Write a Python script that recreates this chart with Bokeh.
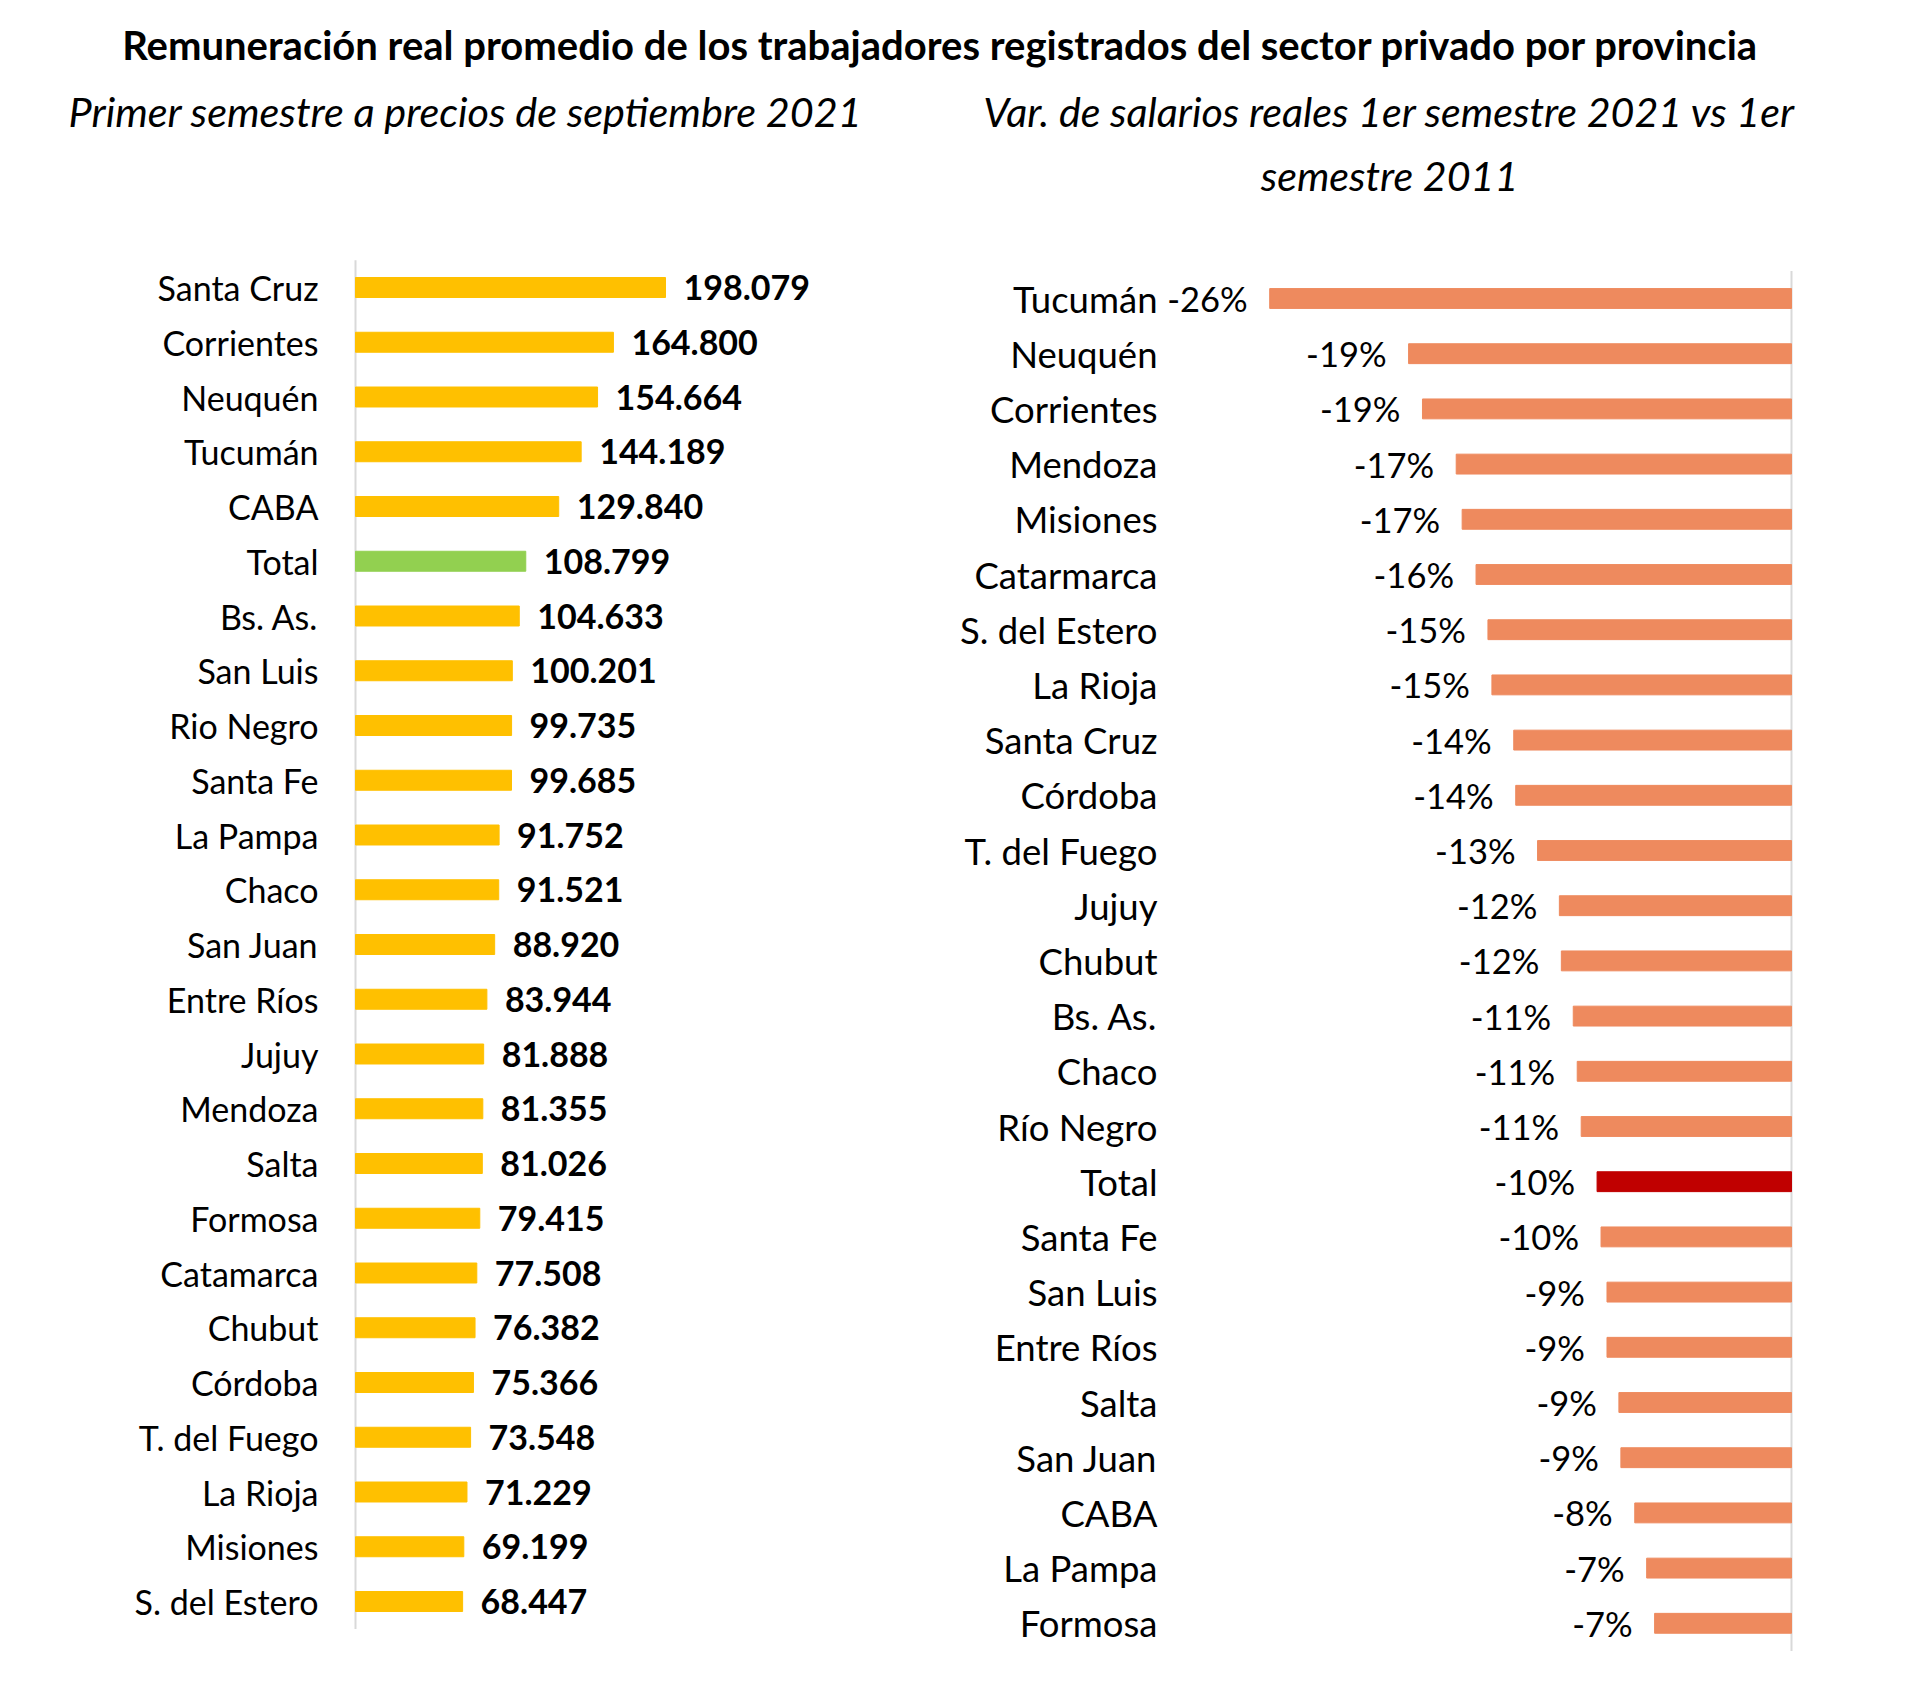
from bokeh.plotting import figure
from bokeh.models import Range1d, ColumnDataSource
from bokeh.embed import file_html
from bokeh.resources import INLINE
from bokeh.core.properties import value

FONT = "Lato"

# ---------------- data ----------------
title_text = "Remuneración real promedio de los trabajadores registrados del sector privado por provincia"
left_subtitle = "Primer semestre a precios de septiembre 2021"
right_subtitle_1 = "Var. de salarios reales 1er semestre 2021 vs 1er"
right_subtitle_2 = "semestre 2011"

left_provinces = ["Santa Cruz", "Corrientes", "Neuquén", "Tucumán", "CABA", "Total", "Bs. As.",
                  "San Luis", "Rio Negro", "Santa Fe", "La Pampa", "Chaco", "San Juan", "Entre Ríos",
                  "Jujuy", "Mendoza", "Salta", "Formosa", "Catamarca", "Chubut", "Córdoba",
                  "T. del Fuego", "La Rioja", "Misiones", "S. del Estero"]
left_values = [198079, 164800, 154664, 144189, 129840, 108799, 104633, 100201, 99735, 99685,
               91752, 91521, 88920, 83944, 81888, 81355, 81026, 79415, 77508, 76382, 75366,
               73548, 71229, 69199, 68447]

right_provinces = ["Tucumán", "Neuquén", "Corrientes", "Mendoza", "Misiones", "Catarmarca",
                   "S. del Estero", "La Rioja", "Santa Cruz", "Córdoba", "T. del Fuego", "Jujuy",
                   "Chubut", "Bs. As.", "Chaco", "Río Negro", "Total", "Santa Fe", "San Luis",
                   "Entre Ríos", "Salta", "San Juan", "CABA", "La Pampa", "Formosa"]
right_values = [-26.3, -19.3, -18.6, -16.9, -16.6, -15.9, -15.3, -15.1, -14.0, -13.9, -12.8,
                -11.7, -11.6, -11.0, -10.8, -10.6, -9.8, -9.6, -9.3, -9.3, -8.7, -8.6, -7.9,
                -7.3, -6.9]

YELLOW = "#FFC000"
GREEN = "#92D050"
SALMON = "#EE8A5E"
RED = "#C00000"
AXIS_GREY = "#D9D9D9"

W, H = 1904, 1680


def fmt_thousands(v):
    return f"{v:,}".replace(",", ".")


# ---------------- layout geometry (pixels) ----------------
L_ZERO_X, L_PX_PER_UNIT = 355.0, 310.0 / 198079.0   # left chart zero line and scale
L_ROW0_Y, L_ROW_STEP = 287.0, 54.75
R_ZERO_X, R_PX_PER_PCT = 1791.0, 19.84                # right chart zero line and scale
R_ROW0_Y, R_ROW_STEP = 298.0, 55.2

p = figure(width=W, height=H, x_range=Range1d(0, W), y_range=Range1d(H, 0),
           output_backend="svg", toolbar_location=None, min_border=0,
           x_axis_location=None, y_axis_location=None, outline_line_color=None)
p.grid.visible = False
p.extra_x_ranges = {
    "lx": Range1d(-L_ZERO_X / L_PX_PER_UNIT, (W - L_ZERO_X) / L_PX_PER_UNIT),
    "rx": Range1d(-R_ZERO_X / R_PX_PER_PCT, (W - R_ZERO_X) / R_PX_PER_PCT),
}
p.extra_y_ranges = {
    "ly": Range1d((H - L_ROW0_Y) / L_ROW_STEP, -L_ROW0_Y / L_ROW_STEP),
    "ry": Range1d((H - R_ROW0_Y) / R_ROW_STEP, -R_ROW0_Y / R_ROW_STEP),
}

# ---------------- header ----------------
p.text(x=[940], y=[44], text=[title_text], text_font=value(FONT), text_font_style="bold",
       text_font_size="40px", text_align="center", text_baseline="middle", text_color="#000000")
p.text(x=[465], y=[110], text=[left_subtitle], text_font=value(FONT), text_font_style="italic",
       text_font_size="41.4px", text_align="center", text_baseline="middle", text_color="#000000")
p.text(x=[1389, 1389], y=[110, 174], text=[right_subtitle_1, right_subtitle_2],
       text_font=value(FONT), text_font_style="italic",
       text_font_size="41.2px", text_align="center", text_baseline="middle", text_color="#000000")

# ---------------- left chart ----------------
lsrc = ColumnDataSource(dict(
    idx=list(range(len(left_provinces))),
    prov=left_provinces,
    val=left_values,
    color=[GREEN if q == "Total" else YELLOW for q in left_provinces],
    label=[fmt_thousands(v) for v in left_values],
))
p.segment(x0=[0], y0=[-0.5], x1=[0], y1=[len(left_provinces) - 0.5], line_color=AXIS_GREY,
          line_width=2, x_range_name="lx", y_range_name="ly")
p.hbar(y="idx", right="val", left=0, height=0.365, color="color", source=lsrc,
       x_range_name="lx", y_range_name="ly")
p.text(x="val", y="idx", text="label", source=lsrc, x_offset=18, text_font=value(FONT),
       text_font_style="bold", text_font_size="34px", text_baseline="middle",
       text_align="left", text_color="#000000", x_range_name="lx", y_range_name="ly")
p.text(x=0, y="idx", text="prov", source=lsrc, x_offset=-37, text_font=value(FONT),
       text_font_size="34px", text_baseline="middle", text_align="right",
       text_color="#000000", x_range_name="lx", y_range_name="ly")

# ---------------- right chart ----------------
rsrc = ColumnDataSource(dict(
    idx=list(range(len(right_provinces))),
    prov=right_provinces,
    val=right_values,
    color=[RED if q == "Total" else SALMON for q in right_provinces],
    label=[f"{round(v):d}%" for v in right_values],
))
p.segment(x0=[0], y0=[-0.5], x1=[0], y1=[len(right_provinces) - 0.5], line_color=AXIS_GREY,
          line_width=2, x_range_name="rx", y_range_name="ry")
p.hbar(y="idx", right=0, left="val", height=0.36, color="color", source=rsrc,
       x_range_name="rx", y_range_name="ry")
p.text(x="val", y="idx", text="label", source=rsrc, x_offset=-22, text_font=value(FONT),
       text_font_size="34.5px", text_baseline="middle", text_align="right",
       text_color="#000000", x_range_name="rx", y_range_name="ry")
p.text(x=1157, y="idx", text="prov", source=rsrc, text_font=value(FONT),
       text_font_size="36.5px", text_baseline="middle", text_align="right",
       text_color="#000000", y_range_name="ry")

with open("out.html", "w") as f:
    f.write(file_html(p, INLINE))
